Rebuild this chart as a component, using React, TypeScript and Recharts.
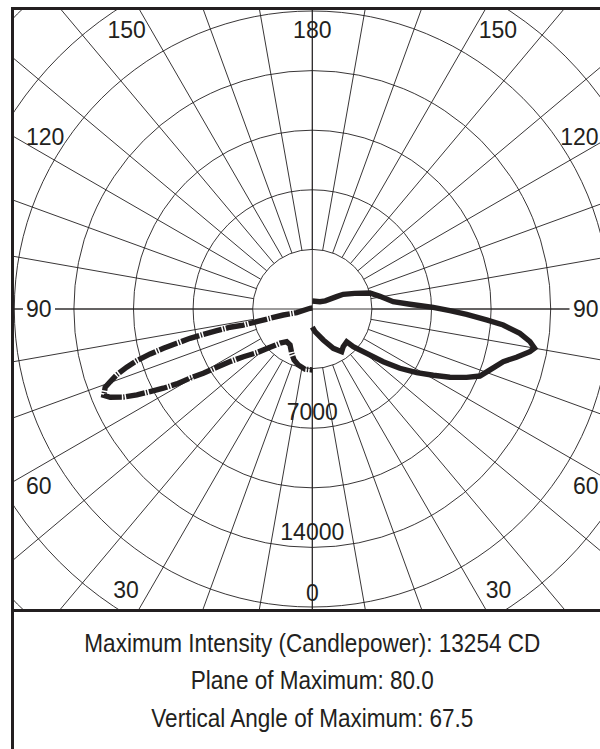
import { RadarChart, Radar, PolarGrid, PolarAngleAxis, PolarRadiusAxis } from 'recharts'

const INK = '#231f20'

// vertical angle (deg from nadir) and candela, one list per plane
const SOLID_ANGLES = [
  180, 134, 122, 117, 115.4, 110.2, 105.5, 100.6, 95.2, 92.8, 90.8, 89.3, 88, 86.4, 85.2, 83.3, 81.5,
  80, 78.9, 76.7, 74.6, 71.1, 68.2, 66.1, 63.6, 61.3, 58.6, 55.9, 53.4, 50.8, 47.4, 46.4, 39.4, 34.5,
  28.1, 19.5, 6.8, 0,
]
const SOLID_CD = [
  470, 620, 900, 1600, 2010, 2650, 3510, 4040, 4770, 5740, 7100, 8080, 9070, 10250, 11250, 12270, 12920,
  13254, 13020, 12320, 11630, 11030, 10600, 9910, 9020, 8100, 7180, 6210, 5190, 4120, 3270, 2790, 2860, 3040,
  2620, 1930, 1340, 1070,
]
const DASHED_ANGLES = [
  180, 107, 76.7, 78.3, 77.6, 77.1, 76.9, 77.5, 77.2, 76.9, 76.5, 75.8, 75.2, 74.5, 73.6, 72.6, 71.4, 70.2,
  69.3, 67.5, 66.4, 65, 63.9, 63, 62, 61.1, 60.5, 59.5, 58.6, 57.4, 55.3, 51.8, 47.8, 43.3, 38.1, 31.8, 24.9,
  19.7, 14, 6.9, 0,
]
const DASHED_CD = [
  60, 140, 940, 1740, 2540, 3350, 4160, 4950, 5750, 6570, 7380, 8210, 9040, 9880, 10740, 11420, 12110, 12620,
  13000, 13254, 12950, 12240, 11470, 10690, 9910, 9100, 8250, 7430, 6570, 5730, 4920, 4150, 3350, 2760, 2440,
  2480, 2870, 3180, 3390, 3560, 3580,
]

const RING_TICKS = [0, 3500, 7000, 10500, 14000, 17500, 21000, 24500]
const RING_LABELS = [7000, 14000]
const SPOKE_TICKS = [
  0, 10, 20, 30, 40, 50, 60, 70, 80, 90, 100, 110, 120, 130, 140, 150, 160, 170, 180, 190, 200, 210, 220,
  230, 240, 250, 260, 270, 280, 290, 300, 310, 320, 330, 340, 350,
]
const ANGLE_LABELS = [0, 30, 60, 90, 120, 150, 180, 210, 240, 270, 300, 330]

const SUMMARY = [
  'Maximum Intensity (Candlepower): 13254 CD',
  'Plane of Maximum: 80.0',
  'Vertical Angle of Maximum: 67.5',
]

// solid plane on the right (angle = theta), dashed plane mirrored on the left (angle = 360 - theta)
const rows = [
  ...SOLID_ANGLES.map((t, i) => ({ angle: t, solid: SOLID_CD[i] })),
  ...DASHED_ANGLES.map((t, i) => ({ angle: 360 - t, dashed: DASHED_CD[i] })),
]

const W = 597
const H = 599
const CX = 298.3
const CY = 299
const R = 417.2
const HUB = 59.6
const FONT = "'Liberation Sans', Arial, Helvetica, sans-serif"

// open outline through the radar's own points (the default polygon would close the curve)
const outline = (dash?: string) => (props: any) => {
  const pts = (props.points || []).filter(
    (p: any) => p.payload?.[props.dataKey] != null && Number.isFinite(p.x) && Number.isFinite(p.y),
  )
  const d = pts.map((p: any, i: number) => `${i ? 'L' : 'M'}${p.x},${p.y}`).join('')
  return (
    <path
      d={d}
      fill="none"
      stroke={INK}
      strokeWidth={5.4}
      strokeDasharray={dash}
      strokeMiterlimit={8}
    />
  )
}

const AngleTick = ({ payload }: any) => {
  const a = payload.value
  if (!ANGLE_LABELS.includes(a)) return <g />
  const t = a <= 180 ? a : 360 - a
  const side = a <= 180 ? 1 : -1
  const rad = (t * Math.PI) / 180
  const sx = Math.sin(rad) * side
  const sy = Math.cos(rad)
  let x = CX
  let y = CY
  let anchor: 'start' | 'middle' | 'end' = 'middle'
  if (t >= 60 && t <= 120) {
    anchor = side > 0 ? 'end' : 'start'
    x = side > 0 ? W - 12.5 : 12
    y = CY + (sy / Math.abs(sx)) * CX + (t < 90 ? 4 : 0)
  } else if (t > 90) {
    y = 20
    x = t === 180 ? CX : CX + (sx / Math.abs(sy)) * CY + side * 13
  } else {
    y = t === 0 ? 583 : 579.5
    x = t === 0 ? CX : CX + (sx / sy) * (H - CY) + side * 13
  }
  return (
    <g>
      {t === 90 && (
        <rect
          x={side > 0 ? x - 29 : x - 3}
          y={y - 9}
          width={32}
          height={18}
          fill="#fff"
        />
      )}
      <text x={x} y={y} dy="0.36em" textAnchor={anchor} fontSize={23} fontFamily={FONT} fill={INK}>
        {t}
      </text>
    </g>
  )
}

const RingTick = ({ x, y, payload }: any) => {
  if (!RING_LABELS.includes(payload.value)) return <g />
  return (
    <text x={x} y={y - 16} dy="0.36em" textAnchor="middle" fontSize={23} fontFamily={FONT} fill={INK}>
      {payload.value}
    </text>
  )
}

export default function App() {
  return (
    <div
      style={{
        position: 'absolute',
        left: 0,
        top: 0,
        width: 600,
        height: 749,
        overflow: 'hidden',
        background: '#fff',
        fontFamily: FONT,
      }}
    >
      <div
        style={{
          position: 'absolute',
          left: 11,
          top: 7,
          width: 603,
          height: 605,
          border: `3px solid ${INK}`,
          boxSizing: 'border-box',
          overflow: 'hidden',
        }}
      >
        <RadarChart
          width={W}
          height={H}
          data={rows}
          cx={CX}
          cy={CY}
          innerRadius={0}
          outerRadius={R}
          startAngle={-90}
          endAngle={270}
          margin={{ top: 0, right: 0, bottom: 0, left: 0 }}
        >
          <PolarGrid
            gridType="circle"
            polarAngles={[-90, 0, 90, 180]}
            stroke={INK}
            strokeWidth={0.9}
          />
          <PolarRadiusAxis
            type="number"
            domain={[0, 24500]}
            ticks={RING_TICKS}
            angle={-90}
            axisLine={false}
            tickLine={false}
            tick={<RingTick />}
          />
          <PolarAngleAxis
            dataKey="angle"
            type="number"
            domain={[0, 360]}
            ticks={SPOKE_TICKS}
            axisLine={false}
            orientation="inner"
            tickSize={R - HUB}
            tickLine={{ stroke: INK, strokeWidth: 0.9 }}
            stroke={INK}
            tick={<AngleTick />}
          />
          <Radar
            dataKey="solid"
            stroke={INK}
            fill="none"
            dot={false}
            shape={outline()}
            isAnimationActive={false}
          />
          <Radar
            dataKey="dashed"
            stroke={INK}
            fill="none"
            dot={false}
            shape={outline('19 1.5 1.3 1.5')}
            isAnimationActive={false}
          />
        </RadarChart>
      </div>
      <div
        style={{
          position: 'absolute',
          left: 11,
          top: 609,
          width: 603,
          height: 200,
          borderLeft: `3px solid ${INK}`,
          borderRight: `3px solid ${INK}`,
          boxSizing: 'border-box',
        }}
      />
      <svg width={600} height={749} style={{ position: 'absolute', left: 0, top: 0, pointerEvents: 'none' }}>
        {SUMMARY.map((line, i) => (
          <text
            key={line}
            x={0}
            y={652.3 + i * 37.2}
            textAnchor="middle"
            fontSize={26}
            fontFamily={FONT}
            fill={INK}
            transform="translate(312.3 0) scale(0.867 1)"
          >
            {line}
          </text>
        ))}
      </svg>
    </div>
  )
}
